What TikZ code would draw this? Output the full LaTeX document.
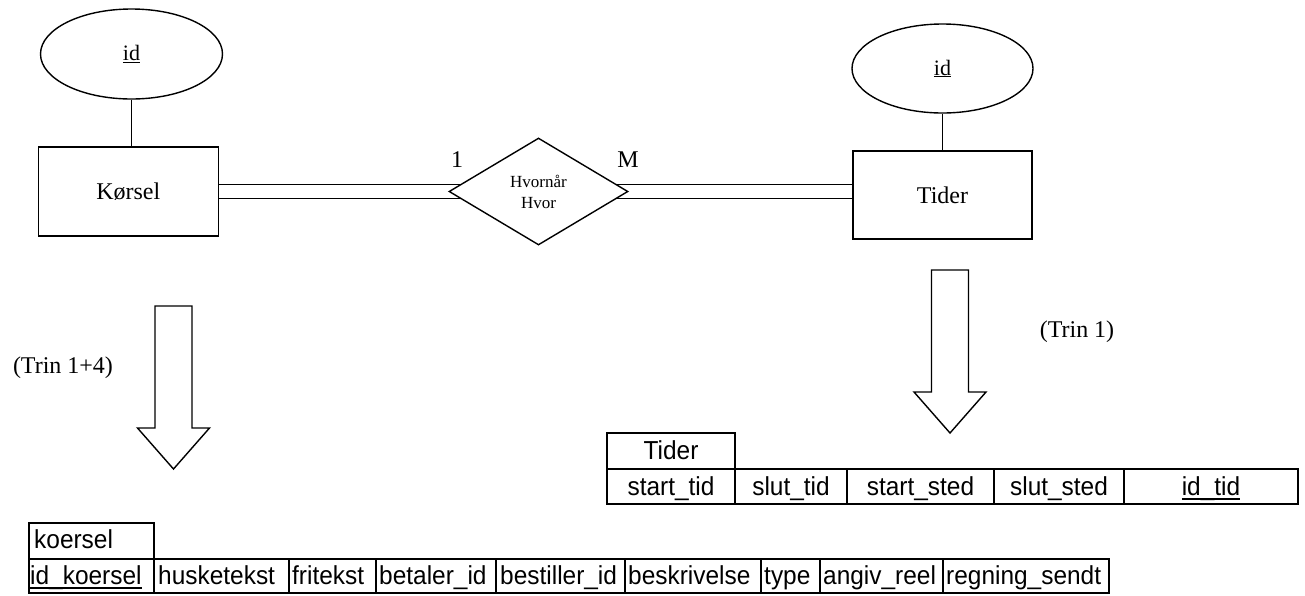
\documentclass[tikz,border=0pt]{standalone}
\usepackage{fontspec}
\setmainfont{Liberation Serif}
\newfontfamily\tabfont[FakeStretch=0.94]{Liberation Sans}
\usetikzlibrary{shapes.geometric,calc}
\pgfdeclarelayer{background}
\pgfsetlayers{background,main}

% primary key field: text with a thick rule underneath
\newcommand\keyfield[1]{\setbox0=\hbox{#1}\rlap{\rule[-4.5pt]{\wd0}{2pt}}\box0}

\tikzset{
  erline/.style={line width=1.4pt},
  entity/.style={draw, rectangle, line width=1.4pt, inner sep=0pt,
    font=\fontsize{24}{28}\selectfont},
  attr/.style={draw, ellipse, line width=1.4pt, inner sep=0pt,
    font=\fontsize{22}{26}\selectfont},
  relation/.style={draw, diamond, fill=white, line width=1.4pt, inner sep=0pt,
    align=center, font=\fontsize{17}{21}\selectfont},
  card/.style={inner sep=0pt, font=\fontsize{24}{28}\selectfont},
  note/.style={inner sep=0pt, font=\fontsize{24}{28}\selectfont},
  blockarrow/.style={line width=1.4pt, line join=miter},
  tabouter/.style={line width=2.8pt},
  tabinner/.style={line width=1.8pt},
  tabtxt/.style={inner sep=0pt, font=\tabfont\fontsize{26}{30}\selectfont},
  downarrow/.pic={
    \draw[blockarrow] (-18.5,0) -- (18.5,0) -- (18.5,122) -- (36,122)
      -- (0,163) -- (-36,122) -- (-18.5,122) -- cycle;
  }
}

\begin{document}
\begin{tikzpicture}[x=1pt, y=-1pt]
\useasboundingbox (0,0) rectangle (1305,595);

% ---------- ER diagram ----------
\node[entity, minimum width=180pt, minimum height=89pt] (kors) at (128.3,191.5) {Kørsel};
\node[entity, minimum width=179pt, minimum height=88pt] (tider) at (942.5,195) {Tider};
\node[attr, minimum width=182pt, minimum height=90pt] (idL) at (131.5,54) {\underline{id}};
\node[attr, minimum width=181pt, minimum height=89pt] (idR) at (942.5,68.5) {\underline{id}};
\node[relation, minimum width=179pt, minimum height=107pt] (rel) at (538.5,191.5) {Hvornår\\Hvor};

\draw[erline] (idL.south) -- (idL.south |- kors.north);
\draw[erline] (idR.south) -- (idR.south |- tider.north);

\coordinate (ru) at ($(rel.center)+(0,-7)$);
\coordinate (rd) at ($(rel.center)+(0,7)$);
\begin{pgfonlayer}{background}
  % double lines: total participation on both sides
  \draw[erline] ($(kors.east)+(0,-7)$) -- (ru);
  \draw[erline] ($(kors.east)+(0,7)$) -- (rd);
  \draw[erline] (ru) -- (ru -| tider.west);
  \draw[erline] (rd) -- (rd -| tider.west);
\end{pgfonlayer}

\node[card] (c1) at (457,160) {1};
\node[card] (cM) at (628,160) {M};

% ---------- transformation arrows ----------
\pic at (173.5,306) {downarrow};
\pic at (950,270) {downarrow};
\node[note] (trinA) at (63,368) {(Trin 1+4)};
\node[note] (trinB) at (1077,332) {(Trin 1)};

% ---------- table Tider ----------
\draw[tabouter] (607,433) rectangle (735,469);
\draw[tabouter] (607,469) rectangle (1298,504);
\foreach \x in {735,847,994,1124} \draw[tabinner] (\x,469) -- (\x,504);
\node[tabtxt, anchor=base] (tHead) at (671,459) {Tider};
\node[tabtxt, anchor=base] (tStartTid) at (671,495) {start\_tid};
\node[tabtxt, anchor=base] (tSlutTid) at (791,495) {slut\_tid};
\node[tabtxt, anchor=base] (tStartSted) at (920.5,495) {start\_sted};
\node[tabtxt, anchor=base] (tSlutSted) at (1059,495) {slut\_sted};
\node[tabtxt, anchor=base] (tId) at (1211,495) {\keyfield{id\_tid}};

% ---------- table koersel ----------
\draw[tabouter] (29,523) rectangle (154,559);
\draw[tabouter] (29,559) rectangle (1109,593);
\foreach \x in {154,289,376,496,625,761,820,943} \draw[tabinner] (\x,559) -- (\x,593);
\node[tabtxt, anchor=base west] (kHead) at (34,548) {koersel};
\node[tabtxt, anchor=base west] (kId) at (30,584) {\keyfield{id\_koersel}};
\node[tabtxt, anchor=base west] (kHusk) at (158,584) {husketekst};
\node[tabtxt, anchor=base west] (kFri) at (292,584) {fritekst};
\node[tabtxt, anchor=base west] (kBet) at (379,584) {betaler\_id};
\node[tabtxt, anchor=base west] (kBest) at (500,584) {bestiller\_id};
\node[tabtxt, anchor=base west] (kBeskr) at (628,584) {beskrivelse};
\node[tabtxt, anchor=base west] (kType) at (764,584) {type};
\node[tabtxt, anchor=base west] (kAngiv) at (823,584) {angiv\_reel};
\node[tabtxt, anchor=base west] (kRegn) at (946,584) {regning\_sendt};
\end{tikzpicture}
\end{document}
